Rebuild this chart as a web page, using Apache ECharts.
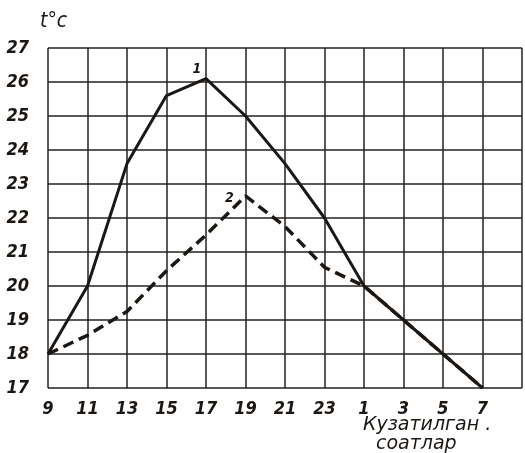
<!DOCTYPE html>
<html><head><meta charset="utf-8">
<script src="https://cdn.jsdelivr.net/npm/echarts@6/dist/echarts.min.js"></script>
<style>html,body{margin:0;padding:0;background:#fff}#c{width:525px;height:453px}</style>
</head><body><div id="c"></div>
<script>
const hours = ['9','11','13','15','17','19','21','23','1','3','5','7'];
const curve1 = [18.0, 20.0, 23.6, 25.6, 26.1, 25.0, 23.6, 22.0, 20.0, 19.0, 18.0, 17.0];
const curve2 = [18.0, 18.55, 19.25, 20.45, 21.5, 22.65, 21.75, 20.55, 20.0, 19.0, 18.0, 17.0];
const yTicks = [17, 18, 19, 20, 21, 22, 23, 24, 25, 26, 27];

const font = 'DejaVu Sans Condensed';
const ink = '#1c1712';
const chart = echarts.init(document.getElementById('c'));
chart.setOption({
  backgroundColor: '#fff',
  animation: false,
  grid: {left: 48, right: 1, top: 48, bottom: 65},
  xAxis: {
    type: 'value', min: 0, max: 12, interval: 1,
    axisLine: {show: false},
    axisTick: {show: false},
    splitLine: {show: true, lineStyle: {color: '#222', width: 1.5}},
    axisLabel: {
      formatter: v => hours[v] !== undefined ? hours[v] : '',
      fontFamily: font, fontStyle: 'italic', fontWeight: 'bold', fontSize: 18, color: ink, margin: 12
    }
  },
  yAxis: {
    type: 'value', min: 17, max: 27, interval: 1,
    axisLine: {show: false},
    axisTick: {show: false},
    splitLine: {show: true, lineStyle: {color: '#222', width: 1.5}},
    axisLabel: {
      formatter: v => yTicks.includes(v) ? String(v) : '',
      fontFamily: font, fontStyle: 'italic', fontWeight: 'bold', fontSize: 18, color: ink, margin: 19
    },
    name: 't°c', nameLocation: 'end', nameGap: 16,
    nameTextStyle: {fontFamily: font, fontStyle: 'italic', fontSize: 21, color: ink, align: 'left', padding: [0,0,0,-8]}
  },
  series: [
    {type: 'line', data: curve1.map((v, i) => [i, v]), symbol: 'none',
     lineStyle: {color: ink, width: 3},
     markPoint: {symbol: 'circle', symbolSize: 0, data: [{coord: [4, curve1[4]], label: {show: true, formatter: '1', offset: [-9, -9], fontFamily: font, fontStyle: 'italic', fontWeight: 'bold', fontSize: 14, color: ink}}]}},
    {type: 'line', data: curve2.map((v, i) => [i, v]), symbol: 'none',
     lineStyle: {color: ink, width: 3.5, type: [11, 6]},
     markPoint: {symbol: 'circle', symbolSize: 0, data: [{coord: [5, curve2[5]], label: {show: true, formatter: '2', offset: [-16, 2], fontFamily: font, fontStyle: 'italic', fontWeight: 'bold', fontSize: 14, color: ink}}]}}
  ],
  graphic: [
    {type: 'text', left: 363, top: 416, style: {text: 'Кузатилган .', font: 'italic 19px "DejaVu Sans"', fill: ink}},
    {type: 'text', left: 376, top: 435, style: {text: 'соатлар', font: 'italic 19px "DejaVu Sans"', fill: ink}}
  ]
});
</script></body></html>
